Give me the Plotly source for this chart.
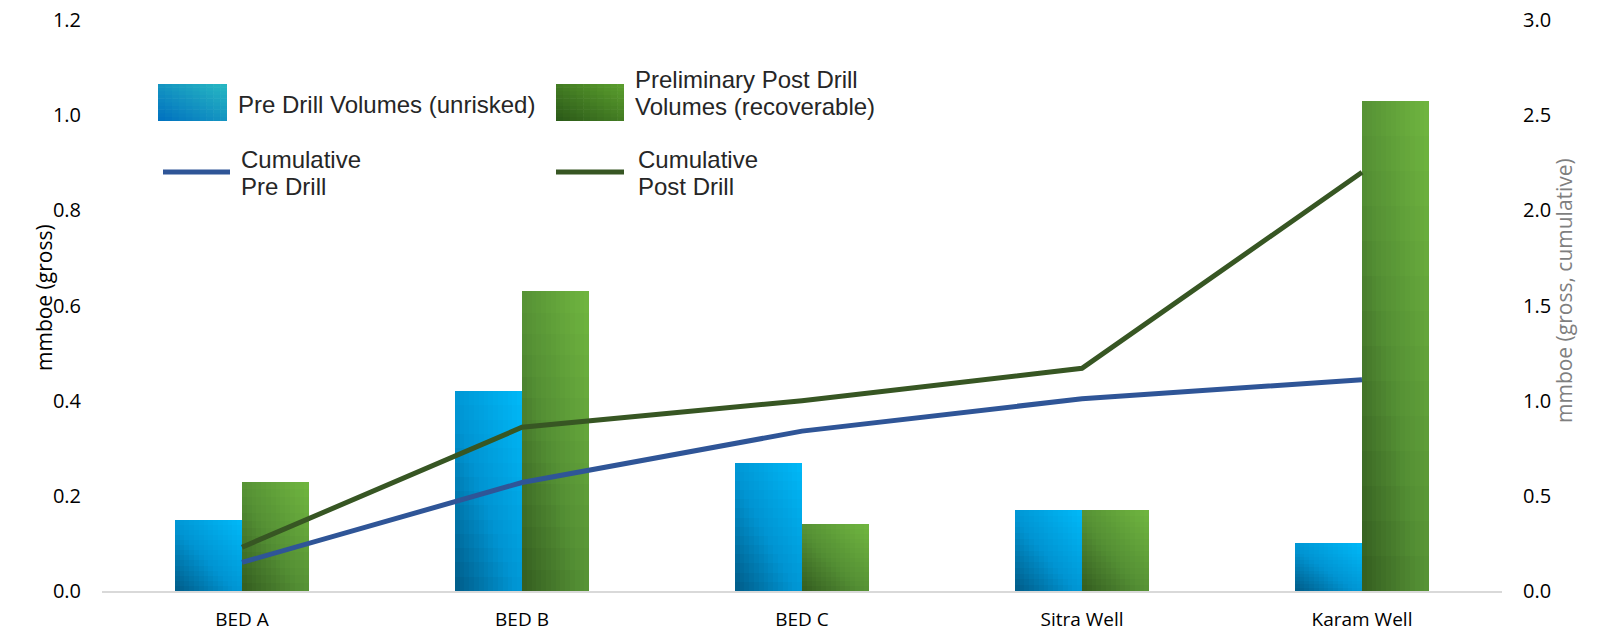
import plotly.graph_objects as go

# ---- data -------------------------------------------------------------
categories = ["BED A", "BED B", "BED C", "Sitra Well", "Karam Well"]
pre_drill = [0.15, 0.42, 0.27, 0.17, 0.10]          # mmboe (gross), unrisked
post_drill = [0.23, 0.63, 0.14, 0.17, 1.03]         # mmboe (gross), recoverable
cum_pre = [0.15, 0.57, 0.84, 1.01, 1.11]            # mmboe (gross, cumulative)
cum_post = [0.23, 0.86, 1.00, 1.17, 2.20]           # mmboe (gross, cumulative)

left_ticks = [0.0, 0.2, 0.4, 0.6, 0.8, 1.0, 1.2]
right_ticks = [0.0, 0.5, 1.0, 1.5, 2.0, 2.5, 3.0]

# ---- page geometry (pixels) -------------------------------------------
W, H = 1598, 633
ML, MR, MT, MB = 102, 96, 20, 42
PW, PH = W - ML - MR, H - MT - MB


def px(x):
    return (x - ML) / PW


def py(y):
    return (H - MB - y) / PH


def hex_rgb(h):
    h = h.lstrip("#")
    return tuple(int(h[i:i + 2], 16) for i in (0, 2, 4))


def ramp(stops, t):
    t = max(0.0, min(1.0, t))
    for (t0, c0), (t1, c1) in zip(stops, stops[1:]):
        if t <= t1:
            f = (t - t0) / (t1 - t0) if t1 > t0 else 0
            a, b = hex_rgb(c0), hex_rgb(c1)
            return "rgb(%d,%d,%d)" % tuple(round(a[k] + (b[k] - a[k]) * f) for k in range(3))
    return "rgb(%d,%d,%d)" % hex_rgb(stops[-1][1])


blue_stops = [(0.0, "#005a86"), (0.45, "#0094d2"), (1.0, "#00b9f8")]
green_stops = [(0.0, "#335c1f"), (0.45, "#548f34"), (1.0, "#71b740")]

BAR_W = 0.24
NC, NR = 14, 14

fig = go.Figure()


def gradient_bars(values, left, stops):
    # nested rectangles, each reaching the top-right corner of the bar;
    # drawn in order so that every visible cell keeps its own colour
    for i in range(NC):
        off = left + BAR_W * i / NC
        wid = BAR_W * (NC - i) / NC
        for j in range(NR):
            u = (i + 0.5) / NC
            v = (j + 0.5) / NR
            fig.add_trace(go.Bar(
                x=categories,
                y=[val * (NR - j) / NR for val in values],
                base=[val * j / NR for val in values],
                offset=off, width=wid,
                marker=dict(color=ramp(stops, (u + v) / 2), line=dict(width=0)),
                showlegend=False, hoverinfo="skip",
            ))


gradient_bars(pre_drill, -BAR_W, blue_stops)
gradient_bars(post_drill, 0.0, green_stops)

fig.add_trace(go.Scatter(x=categories, y=cum_pre, yaxis="y2", mode="lines",
                         line=dict(color="#2f5597", width=5), showlegend=False))
fig.add_trace(go.Scatter(x=categories, y=cum_post, yaxis="y2", mode="lines",
                         line=dict(color="#375623", width=5), showlegend=False))

FONT = "Open Sans, DejaVu Sans, sans-serif"
tick_font = dict(family=FONT, size=20, color="#000000")

fig.update_layout(
    width=W, height=H,
    margin=dict(l=ML, r=MR, t=MT, b=MB),
    paper_bgcolor="white", plot_bgcolor="white",
    barmode="overlay", bargap=0,
    xaxis=dict(
        type="category", range=[-0.5, 4.5], automargin=False,
        showline=True, linecolor="#d9d9d9", linewidth=2,
        showgrid=False, zeroline=False, ticks="",
        tickfont=dict(family=FONT, size=19, color="#000000"),
        ticklabelstandoff=10,
    ),
    yaxis=dict(
        range=[0, 1.2], tickvals=left_ticks, tickformat=".1f", automargin=False,
        showgrid=False, zeroline=False, showline=False, ticks="",
        tickfont=tick_font, ticklabelstandoff=20,
    ),
    yaxis2=dict(
        range=[0, 3.0], tickvals=right_ticks, tickformat=".1f", automargin=False,
        overlaying="y", side="right",
        showgrid=False, zeroline=False, showline=False, ticks="",
        tickfont=tick_font, ticklabelstandoff=20,
    ),
)

annotations = [
    dict(text="mmboe (gross)", x=px(28), y=py(298), textangle=-90,
         font=dict(family=FONT, size=21, color="#000000")),
    dict(text="mmboe (gross, cumulative)", x=px(1580), y=py(290), textangle=-90,
         font=dict(family=FONT, size=21, color="#7f7f7f")),
]

# ---- legend ---------------------------------------------------------------
leg_font = dict(family="Liberation Sans, Arial, sans-serif", size=24, color="#262626")
shapes = []


def swatch(x0, y0, x1, y1, stops, n=10):
    for i in range(n):
        for j in range(n):
            u = (i + 0.5) / n
            v = (j + 0.5) / n
            xa = x0 + (x1 - x0) * i / n
            xb = x0 + (x1 - x0) * (i + 1) / n + 0.6
            yb = y1 - (y1 - y0) * j / n
            ya = y1 - (y1 - y0) * (j + 1) / n - 0.6
            shapes.append(dict(type="rect", xref="paper", yref="paper",
                               x0=px(xa), x1=px(min(xb, x1)), y0=py(yb), y1=py(max(ya, y0)),
                               line=dict(width=0), fillcolor=ramp(stops, (u + v) / 2),
                               layer="above"))


leg_blue = [(0.0, "#0070c0"), (1.0, "#28b9c2")]
leg_green = [(0.0, "#2a5818"), (1.0, "#5ca02e")]

swatch(158, 84, 227, 121, leg_blue)
swatch(556, 84, 624, 121, leg_green)
shapes.append(dict(type="line", xref="paper", yref="paper",
                   x0=px(163), x1=px(230), y0=py(172), y1=py(172),
                   line=dict(color="#2f5597", width=5)))
shapes.append(dict(type="line", xref="paper", yref="paper",
                   x0=px(556), x1=px(624), y0=py(172), y1=py(172),
                   line=dict(color="#375623", width=5)))

for text, x, y in [
    ("Pre Drill Volumes (unrisked)", 236, 104),
    ("Preliminary Post Drill", 633, 80),
    ("Volumes (recoverable)", 633, 107),
    ("Cumulative", 239, 159),
    ("Pre Drill", 239, 187),
    ("Cumulative", 636, 159),
    ("Post Drill", 636, 187),
]:
    annotations.append(dict(text=text, x=px(x), y=py(y), xanchor="left", yanchor="middle",
                            align="left", font=leg_font))

for a in annotations:
    a.setdefault("xref", "paper")
    a.setdefault("yref", "paper")
    a.setdefault("showarrow", False)

fig.update_layout(annotations=annotations, shapes=shapes)

fig.write_html("out.html")
